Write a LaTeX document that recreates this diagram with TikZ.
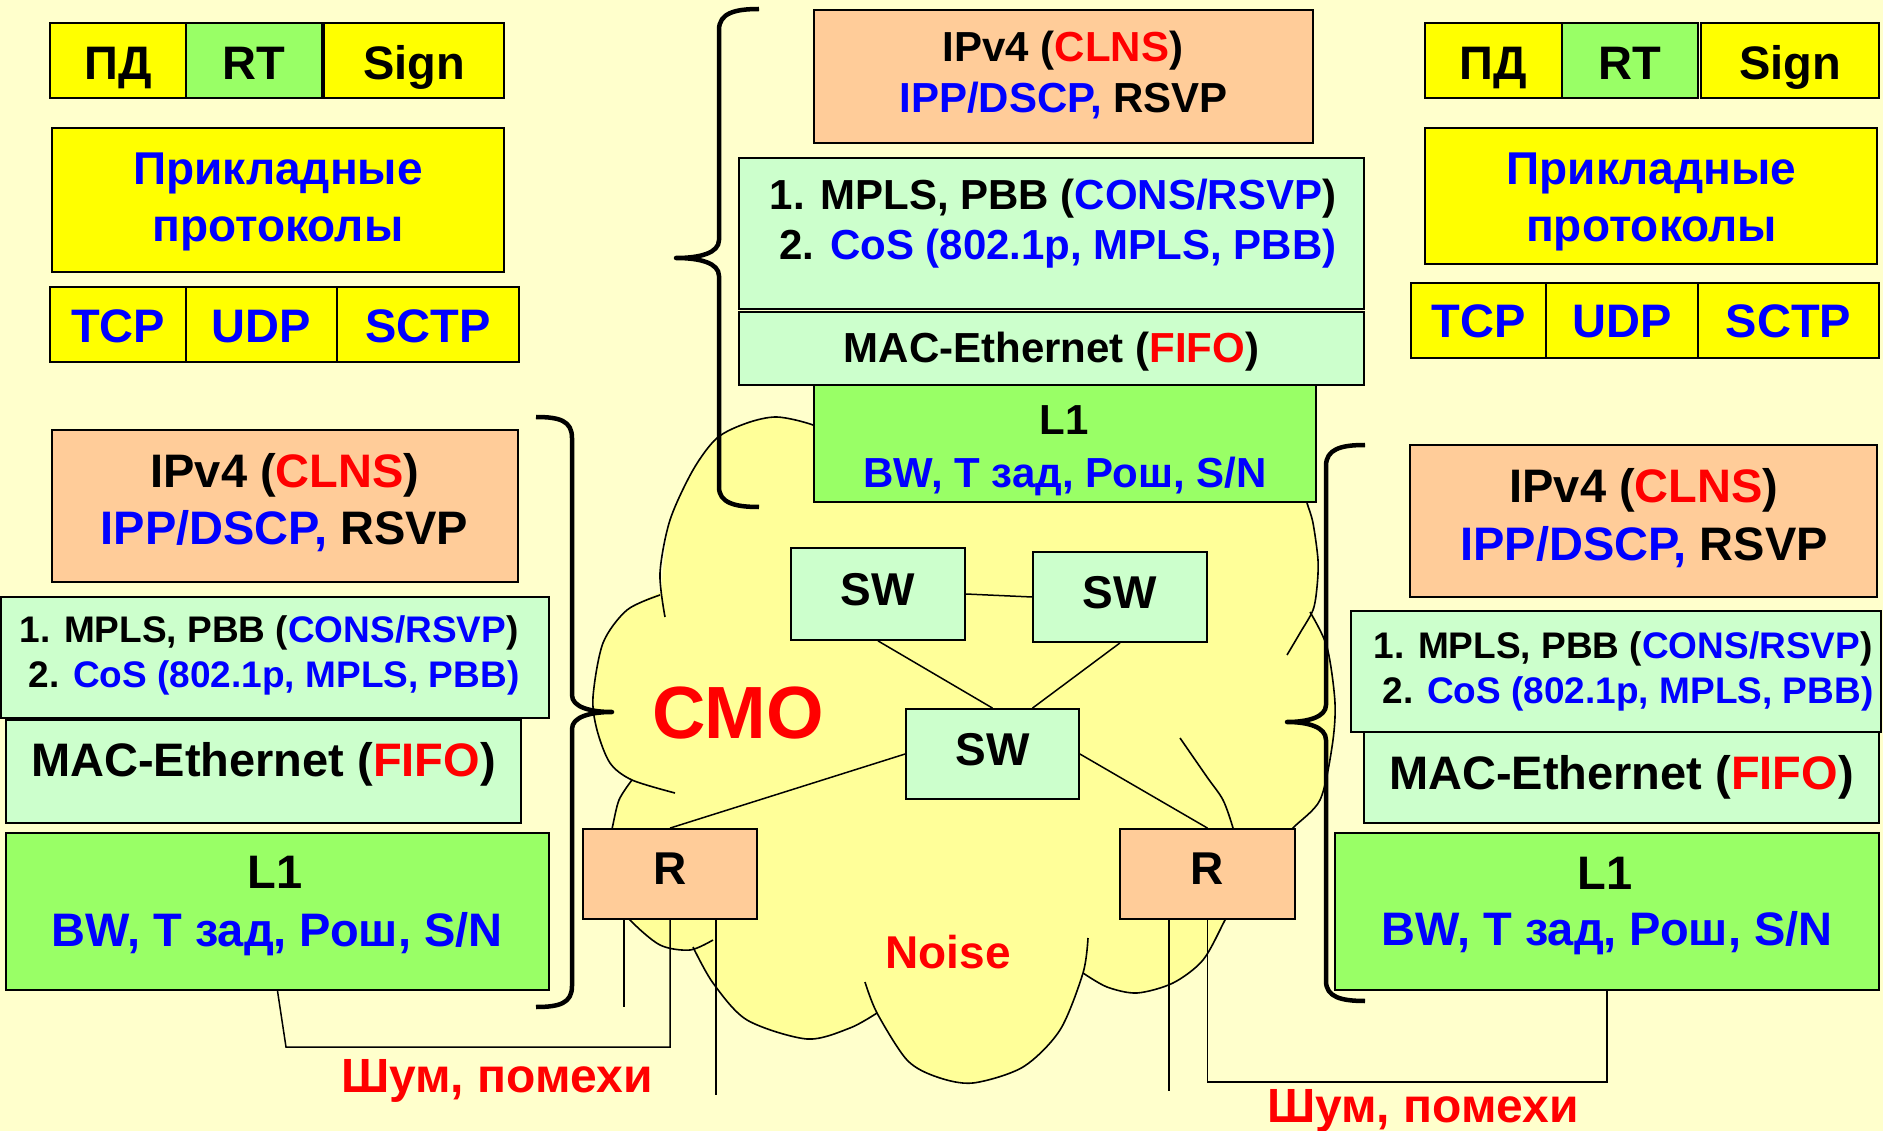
\documentclass[tikz,border=0pt]{standalone}
\usepackage{fontspec}
\setmainfont{Liberation Sans}
\usetikzlibrary{calc}
\newcommand\pxs[1]{\fontsize{#1}{#1}\selectfont}
\newcommand\redtxt[1]{\textcolor{tred}{#1}}
\newcommand\bluetxt[1]{\textcolor{tblue}{#1}}
\definecolor{bg}{HTML}{FFFFCC}
\definecolor{cloudfill}{HTML}{FFFF99}
\definecolor{ylw}{HTML}{FFFF00}
\definecolor{grn}{HTML}{99FF66}
\definecolor{lgrn}{HTML}{CCFFCC}
\definecolor{peach}{HTML}{FFCC99}
\definecolor{tblue}{HTML}{0000FF}
\definecolor{tred}{HTML}{FF0000}
\tikzset{
  box/.style={draw=black, line width=1.8pt, inner sep=0pt},
  boxsize/.style 2 args={minimum width=#1pt, minimum height=#2pt},
  sz/.style={font=\bfseries\pxs{#1}},
  basel/.style={text height=#1pt, text depth=0pt},
  txt/.style={inner sep=0pt, anchor=base},
  wire/.style={line width=1.5pt},
  cloudline/.style={line width=1.6pt},
  brace/.style={line width=4.5pt, line join=round},
}
\begin{document}
\begin{tikzpicture}[x=1pt, y=-1pt]
\useasboundingbox (0,0) rectangle (1883,1131);
\fill[bg] (0,0) rectangle (1883,1131);

% ---- cloud (queueing system) ----
\fill[cloudfill]
  plot[smooth] coordinates {(661,592) (670,520) (693,470) (717,438) (747,423) (777,417) (813,425)}
  -- (900,430) -- (1200,440) -- (1300,480)
  -- plot[smooth] coordinates {(1307,503) (1313,523) (1318,560) (1317,587) (1312,612)}
  -- plot[smooth] coordinates {(1312,612) (1327,647) (1335,703) (1332,747) (1320,800) (1293,828)}
  -- (1240,880)
  -- plot[smooth] coordinates {(1225,920) (1203,960) (1173,983) (1137,993) (1107,987) (1083,973)}
  -- plot[smooth] coordinates {(1083,973) (1060,1030) (1023,1067) (973,1083) (937,1077) (907,1060) (877,1013)}
  -- plot[smooth] coordinates {(877,1013) (850,1028) (807,1039) (747,1020) (713,983) (693,948)}
  -- plot[smooth] coordinates {(690,950) (660,945) (630,920) (612,895) (605,860) (612,829) (619,800) (632,780)}
  -- plot[smooth] coordinates {(632,780) (610,763) (597,730) (593,697) (603,643) (627,610) (661,592)}
  -- cycle;
\draw[cloudline] plot[smooth] coordinates {(665,617) (660,573) (670,520) (693,470) (717,438) (747,423) (777,417) (813,425) (840,440)};
\draw[cloudline] plot[smooth] coordinates {(660,595) (627,610) (603,643) (593,697) (597,730) (610,763) (632,780) (675,793)};
\draw[cloudline] plot[smooth] coordinates {(632,780) (619,800) (612,829) (605,860) (612,895) (630,920) (660,945) (690,950) (713,940)};
\draw[cloudline] plot[smooth] coordinates {(693,947) (713,983) (747,1020) (807,1039) (850,1028) (877,1013)};
\draw[cloudline] plot[smooth] coordinates {(865,982) (877,1013) (907,1060) (937,1077) (973,1083) (1023,1067) (1060,1030) (1083,973) (1088,938)};
\draw[cloudline] plot[smooth] coordinates {(1083,973) (1107,987) (1137,993) (1173,983) (1203,960) (1225,920) (1240,890)};
\draw[cloudline] plot[smooth] coordinates {(1180,738) (1207,777) (1223,800) (1233,828) (1236,845)};
\draw[cloudline] plot[smooth] coordinates {(1310,612) (1327,647) (1335,703) (1332,747) (1320,800) (1293,828) (1275,850)};
\draw[cloudline] plot[smooth] coordinates {(1300,480) (1307,503) (1313,523) (1318,560) (1317,587) (1313,610) (1300,633) (1287,655)};

% ---- left terminal: application layers ----
\node[box, fill=ylw, boxsize={136}{75}, sz=47, basel=39] (tlPD) at (118,60.5) {ПД};
\node[box, fill=grn, boxsize={136}{75}, sz=47, basel=39] (tlRT) at (254,60.5) {RT};
\node[box, fill=ylw, boxsize={180}{75}, sz=47, basel=39] (tlSign) at (414,60.5) {Sign};
\node[box, fill=ylw, boxsize={452}{144}] (tlApp) at (278,200) {};
\node[txt, sz=46, text=tblue] (tlAppA) at (278,185) {Прикладные};
\node[txt, sz=46, text=tblue] (tlAppB) at (278,242) {протоколы};
\node[box, fill=ylw, boxsize={136}{75}, sz=47, text=tblue, basel=37] (tlTCP) at (118,324.5) {TCP};
\node[box, fill=ylw, boxsize={151}{75}, sz=47, text=tblue, basel=37] (tlUDP) at (261.5,324.5) {UDP};
\node[box, fill=ylw, boxsize={182}{75}, sz=47, text=tblue, basel=37] (tlSCTP) at (428,324.5) {SCTP};

% ---- right terminal: application layers ----
\node[box, fill=ylw, boxsize={137}{75}, sz=47, basel=39] (trPD) at (1493.5,60.5) {ПД};
\node[box, fill=grn, boxsize={136}{75}, sz=47, basel=39] (trRT) at (1630,60.5) {RT};
\node[box, fill=ylw, boxsize={178}{75}, sz=47, basel=39] (trSign) at (1790,60.5) {Sign};
\node[box, fill=ylw, boxsize={452}{136}] (trApp) at (1651,196) {};
\node[txt, sz=46, text=tblue] (trAppA) at (1651.5,185) {Прикладные};
\node[txt, sz=46, text=tblue] (trAppB) at (1651.5,242) {протоколы};
\node[box, fill=ylw, boxsize={135}{75}, sz=47, text=tblue, basel=35] (trTCP) at (1478.5,320.5) {TCP};
\node[box, fill=ylw, boxsize={152}{75}, sz=47, text=tblue, basel=35] (trUDP) at (1622,320.5) {UDP};
\node[box, fill=ylw, boxsize={181}{75}, sz=47, text=tblue, basel=35] (trSCTP) at (1788.5,320.5) {SCTP};

% ---- network node stack (top centre) ----
\node[box, fill=peach, boxsize={499}{133}] (tcIP) at (1063.5,76.5) {};
\node[txt, sz=42] (tcIPa) at (1063,62) {IPv4 (\redtxt{CLNS})};
\node[txt, sz=42] (tcIPb) at (1063.5,113) {\bluetxt{IPP/DSCP,} RSVP};
\node[box, fill=lgrn, boxsize={625}{151}] (tcQ) at (1051.5,233.5) {};
\node[txt, sz=42] (tcQa) at (1053,210) {1. MPLS, PBB (\bluetxt{CONS/RSVP})};
\node[txt, sz=42] (tcQb) at (1058,260) {2. \bluetxt{CoS (802.1p, MPLS, PBB)}};
\node[box, fill=lgrn, boxsize={625}{73}, sz=42, basel=29] (tcMAC) at (1051.5,348.5) {MAC-Ethernet (\redtxt{FIFO})};
\node[box, fill=grn, boxsize={502}{117}] (tcL1) at (1065,443.5) {};
\node[txt, sz=42] (tcL1a) at (1064,435) {L1};
\node[txt, sz=42, text=tblue] (tcL1b) at (1065,487) {BW, Т зад, Рош, S/N};

% ---- left terminal: network layers ----
\node[box, fill=peach, boxsize={466}{152}] (lIP) at (285,506) {};
\node[txt, sz=47] (lIPa) at (285,487) {IPv4 (\redtxt{CLNS})};
\node[txt, sz=47] (lIPb) at (284.5,544) {\bluetxt{IPP/DSCP,} RSVP};
\node[box, fill=lgrn, boxsize={548}{121}] (lQ) at (275,657.5) {};
\node[txt, sz=37] (lQa) at (269,642) {1. MPLS, PBB (\bluetxt{CONS/RSVP})};
\node[txt, sz=37] (lQb) at (274,687) {2. \bluetxt{CoS (802.1p, MPLS, PBB)}};
\node[box, fill=lgrn, boxsize={515}{103}, sz=47, basel=9] (lMAC) at (263.5,771.5) {MAC-Ethernet (\redtxt{FIFO})};
\node[box, fill=grn, boxsize={543}{157}] (lL1) at (277.5,911.5) {};
\node[txt, sz=47] (lL1a) at (275,888) {L1};
\node[txt, sz=47, text=tblue] (lL1b) at (277,946) {BW, Т зад, Рош, S/N};

% ---- right terminal: network layers ----
\node[box, fill=peach, boxsize={467}{152}] (rIP) at (1643.5,521) {};
\node[txt, sz=47] (rIPa) at (1644,502) {IPv4 (\redtxt{CLNS})};
\node[txt, sz=47] (rIPb) at (1644,560) {\bluetxt{IPP/DSCP,} RSVP};
\node[box, fill=lgrn, boxsize={530}{121}] (rQ) at (1616,671.5) {};
\node[txt, sz=37] (rQa) at (1623,658) {1. MPLS, PBB (\bluetxt{CONS/RSVP})};
\node[txt, sz=37] (rQb) at (1628,703) {2. \bluetxt{CoS (802.1p, MPLS, PBB)}};
\node[box, fill=lgrn, boxsize={515}{91}, sz=47, basel=23] (rMAC) at (1621.5,777.5) {MAC-Ethernet (\redtxt{FIFO})};
\node[box, fill=grn, boxsize={544}{157}] (rL1) at (1607,911.5) {};
\node[txt, sz=47] (rL1a) at (1605,889) {L1};
\node[txt, sz=47, text=tblue] (rL1b) at (1607,945) {BW, Т зад, Рош, S/N};

% ---- switches and routers inside the cloud ----
\node[box, fill=lgrn, boxsize={174}{92}, sz=46, basel=22] (sw1) at (878,594) {SW};
\node[box, fill=lgrn, boxsize={174}{90}, sz=46, basel=22] (sw2) at (1120,597) {SW};
\node[box, fill=lgrn, boxsize={173}{90}, sz=46, basel=22] (sw3) at (992.5,754) {SW};
\node[box, fill=peach, boxsize={174}{90}, sz=46, basel=20] (r1) at (670,874) {R};
\node[box, fill=peach, boxsize={175}{90}, sz=46, basel=20] (r2) at (1207.5,874) {R};

\draw[wire] (sw1.east) -- (sw2.west);
\draw[wire] (sw1.south) -- (sw3.north);
\draw[wire] (sw2.south) -- ($(sw3.north)+(40,0)$);
\draw[wire] (sw3.west) -- (r1.north);
\draw[wire] (sw3.east) -- (r2.north);

% ---- physical links and noise feeds ----
\coordinate (lbend) at (286,1047);
\coordinate (lend1) at (624,1007);
\coordinate (lend2) at (716,1095);
\coordinate (rend) at (1169,1091);
\draw[wire] (lL1.south) -- (lbend) -| (r1.south);
\draw[wire] (r1.south -| lend1) -- (lend1);
\draw[wire] (r1.south -| lend2) -- (lend2);
\draw[wire] (r2.south -| rend) -- (rend);
\draw[wire] (r2.south) -- ++(0,162) -| (rL1.south);

% ---- braces ----
\draw[brace] (759,9) .. controls (735,9) and (719,13) .. (719,30) -- (719,240)
  .. controls (719,253) and (700,258) .. (676,258)
  .. controls (700,258) and (719,263) .. (719,276) -- (719,487)
  .. controls (719,503) and (735,507) .. (759,507);
\draw[brace] (536,417) .. controls (560,417) and (572,421) .. (572,438) -- (572,695)
  .. controls (572,707) and (590,712) .. (612,712)
  .. controls (590,712) and (572,717) .. (572,729) -- (572,986)
  .. controls (572,1003) and (560,1007) .. (536,1007);
\draw[brace] (1365,445) .. controls (1341,445) and (1326,449) .. (1326,466) -- (1326,705)
  .. controls (1326,717) and (1308,722) .. (1287,722)
  .. controls (1308,722) and (1326,727) .. (1326,740) -- (1326,981)
  .. controls (1326,997) and (1341,1001) .. (1365,1001);

% ---- captions ----
\node[txt, sz=74, text=tred] (smo) at (738,738) {СМО};
\node[txt, sz=46, text=tred] (noise) at (948,968) {Noise};
\node[txt, sz=48, text=tred] (nzL) at (497,1092) {Шум, помехи};
\node[txt, sz=48, text=tred] (nzR) at (1423,1122) {Шум, помехи};
\end{tikzpicture}
\end{document}
